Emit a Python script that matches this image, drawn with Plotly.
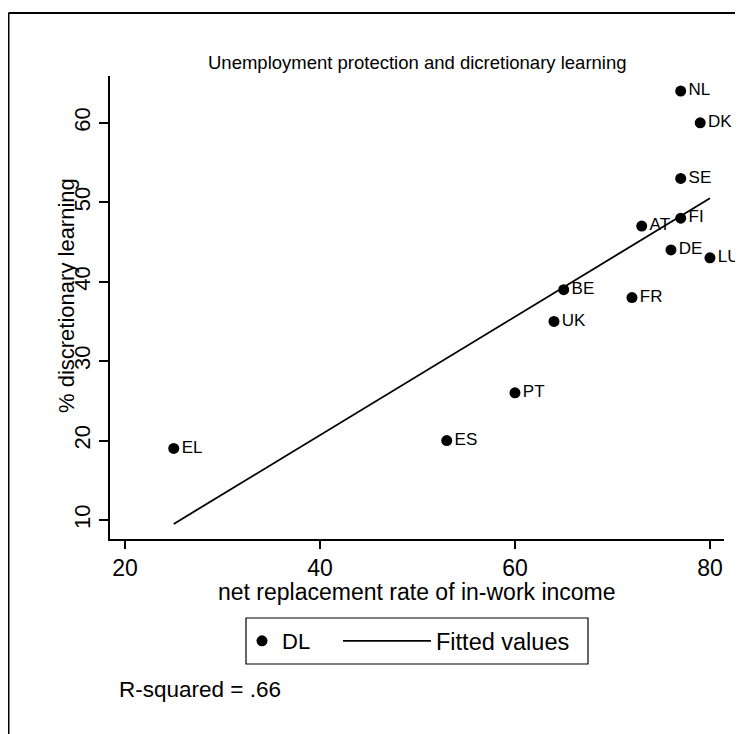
import plotly.graph_objects as go

# ---- data ----
countries = ["EL", "ES", "PT", "UK", "BE", "FR", "AT", "DE", "NL", "SE", "FI", "DK", "LU"]
replacement_rate = [25, 53, 60, 64, 65, 72, 73, 76, 77, 77, 77, 79, 80]
discretionary_learning = [19, 20, 26, 35, 39, 38, 47, 44, 64, 53, 48, 60, 43]

fit_x = [25, 80]
fit_y = [9.5, 50.5]

x_ticks = [20, 40, 60, 80]
y_ticks = [10, 20, 30, 40, 50, 60]

title_text = "Unemployment protection and dicretionary learning"
x_title = "net replacement rate of in-work income"
y_title = "% discretionary learning"
r2_text = "R-squared = .66"

FONT = "Liberation Sans, Arial, sans-serif"

# page is shown with an 8px body margin -> work in page pixels, convert
OFF = 8
W, H = 743 - OFF, 734 - OFF
L, T = 110 - OFF, 76 - OFF
pw, ph = 614, 463
R = W - L - pw
B = H - T - ph


def px(xp):  # page x -> paper
    return (xp - OFF - L) / pw


def py(yp):  # page y -> paper
    return (T + ph - (yp - OFF)) / ph


fig = go.Figure()
fig.add_trace(go.Scatter(
    x=replacement_rate, y=discretionary_learning, text=countries,
    mode="markers+text", name="DL", legend="legend",
    marker=dict(color="black", size=11),
    textposition="middle right",
    textfont=dict(family=FONT, size=17, color="black"),
    cliponaxis=False,
))
fig.add_trace(go.Scatter(
    x=fit_x, y=fit_y, mode="lines", name="Fitted values", legend="legend2",
    line=dict(color="black", width=1.8),
    cliponaxis=False,
))

fig.update_layout(
    width=W, height=H,
    margin=dict(l=L, r=R, t=T, b=B, pad=0),
    paper_bgcolor="white", plot_bgcolor="white",
    font=dict(family=FONT, color="black"),
    showlegend=True,
    legend=dict(
        orientation="h", x=px(242), y=py(641), xanchor="left", yanchor="middle",
        borderwidth=0, bgcolor="rgba(0,0,0,0)",
        font=dict(family=FONT, size=22, color="black"),
        itemwidth=30,
    ),
    legend2=dict(
        orientation="h", x=px(338), y=py(641), xanchor="left", yanchor="middle",
        borderwidth=0, bgcolor="rgba(0,0,0,0)",
        font=dict(family=FONT, size=23.5, color="black"),
        itemwidth=88,
    ),
    xaxis=dict(
        range=[18.46, 81.44], tickvals=x_ticks, ticktext=[str(v) for v in x_ticks],
        showline=True, linecolor="black", linewidth=1.5,
        ticks="outside", ticklen=8, tickwidth=1.5, tickcolor="black",
        showgrid=False, zeroline=False,
        tickfont=dict(family=FONT, size=23, color="black"),
    ),
    yaxis=dict(
        range=[7.6, 65.9], tickvals=y_ticks, ticktext=[str(v) for v in y_ticks],
        showline=True, linecolor="black", linewidth=1.5,
        ticks="outside", ticklen=9, tickwidth=1.5, tickcolor="black",
        showgrid=False, zeroline=False, tickangle=-90,
        tickfont=dict(family=FONT, size=22, color="black"),
    ),
    annotations=[
        dict(text=title_text, xref="paper", yref="paper", x=px(417), y=py(62),
             xanchor="center", yanchor="middle", showarrow=False,
             font=dict(family=FONT, size=18.5, color="black")),
        dict(text=x_title, xref="paper", yref="paper", x=px(417), y=py(592),
             xanchor="center", yanchor="middle", showarrow=False,
             font=dict(family=FONT, size=23, color="black")),
        dict(text=y_title, xref="paper", yref="paper", x=px(66), y=py(296),
             xanchor="center", yanchor="middle", showarrow=False, textangle=-90,
             font=dict(family=FONT, size=22, color="black")),
        dict(text=r2_text, xref="paper", yref="paper", x=px(117), y=py(689),
             xanchor="left", yanchor="middle", showarrow=False,
             font=dict(family=FONT, size=22.5, color="black")),
    ],
    shapes=[
        # outer frame
        dict(type="line", xref="paper", yref="paper", x0=px(8.5), x1=px(760),
             y0=py(13), y1=py(13), line=dict(color="black", width=2)),
        dict(type="line", xref="paper", yref="paper", x0=px(8.5), x1=px(8.5),
             y0=py(13), y1=py(760), line=dict(color="black", width=2)),
        # legend frame
        dict(type="rect", xref="paper", yref="paper", x0=px(246), x1=px(588),
             y0=py(618), y1=py(664), line=dict(color="black", width=1.2),
             fillcolor="rgba(0,0,0,0)"),
    ],
)

fig.write_html("out.html")
